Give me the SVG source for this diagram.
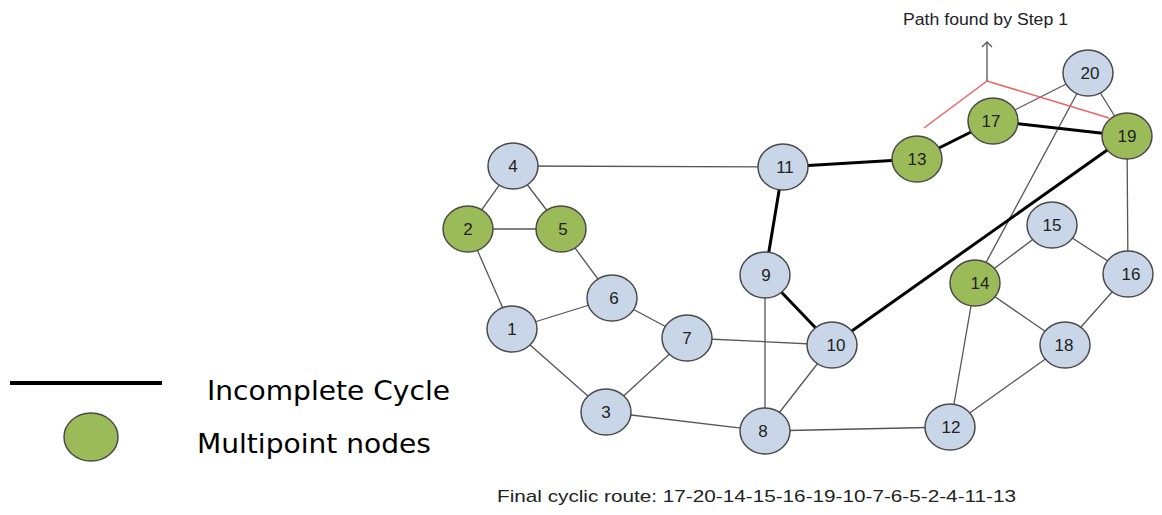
<svg xmlns="http://www.w3.org/2000/svg" width="1162" height="515" viewBox="0 0 1162 515">
<defs>
<style>
.n ellipse{stroke:#4a4a4a;stroke-width:1.5}
.b ellipse{fill:#c8d6e7}
.g ellipse{fill:#9bbb59}
.n text{font-family:"Liberation Sans",Arial,sans-serif;font-size:17px;fill:#222;text-anchor:middle;dominant-baseline:central}
.e line{stroke:#555;stroke-width:1.3}
.e line.t{stroke:#000;stroke-width:3}
.lg{font-family:"DejaVu Sans",Tahoma,sans-serif;font-size:27px;fill:#000}
</style>
<marker id="arr" markerWidth="12" markerHeight="12" refX="6" refY="6" orient="auto" markerUnits="userSpaceOnUse">
<path d="M1,1 L6,6 L1,11" fill="none" stroke="#555" stroke-width="1.3"/>
</marker>
</defs>
<rect width="1162" height="515" fill="#fff"/>
<g id="connectors" class="e">
<line x1="513" y1="166" x2="783" y2="167"/>
<line x1="513" y1="166" x2="468" y2="229"/>
<line x1="513" y1="166" x2="561" y2="229"/>
<line x1="468" y1="229" x2="561" y2="229"/>
<line x1="468" y1="229" x2="512" y2="329"/>
<line x1="561" y1="229" x2="612" y2="298"/>
<line x1="512" y1="329" x2="612" y2="298"/>
<line x1="512" y1="329" x2="606" y2="412"/>
<line x1="606" y1="412" x2="687" y2="338"/>
<line x1="612" y1="298" x2="687" y2="338"/>
<line x1="687" y1="338" x2="832" y2="345"/>
<line x1="606" y1="412" x2="765" y2="431"/>
<line x1="765" y1="275" x2="765" y2="431"/>
<line x1="832" y1="345" x2="765" y2="431"/>
<line x1="765" y1="431" x2="950" y2="427"/>
<line x1="950" y1="427" x2="975" y2="283"/>
<line x1="950" y1="427" x2="1065" y2="345"/>
<line x1="975" y1="283" x2="1065" y2="345"/>
<line x1="975" y1="283" x2="1052" y2="225"/>
<line x1="1052" y1="225" x2="1128" y2="274"/>
<line x1="1128" y1="274" x2="1065" y2="345"/>
<line x1="1128" y1="274" x2="1127" y2="136"/>
<line x1="1127" y1="136" x2="1088" y2="73"/>
<line x1="1088" y1="73" x2="993" y2="121"/>
<line x1="1088" y1="73" x2="975" y2="283"/>
<line class="t" x1="783" y1="167" x2="917" y2="159"/>
<line class="t" x1="917" y1="159" x2="993" y2="121"/>
<line class="t" x1="993" y1="121" x2="1127" y2="136"/>
<line class="t" x1="1127" y1="136" x2="832" y2="345"/>
<line class="t" x1="783" y1="167" x2="765" y2="275"/>
<line class="t" x1="765" y1="275" x2="832" y2="345"/>
</g>
<g id="path-marker">
<polyline points="924,128 987,81 1109,118" fill="none" stroke="#f06060" stroke-width="1.5"/>
<line x1="987" y1="81" x2="987" y2="42" stroke="#555" stroke-width="1.3" marker-end="url(#arr)"/>
<text x="903" y="25" font-family="Liberation Sans,Arial,sans-serif" font-size="16" fill="#222" textLength="165" lengthAdjust="spacingAndGlyphs">Path found by Step 1</text>
</g>
<g id="node1" class="n b"><ellipse cx="512" cy="329" rx="25" ry="23"/><text x="512" y="329">1</text></g>
<g id="node2" class="n g"><ellipse cx="468" cy="229" rx="25" ry="23"/><text x="468" y="229">2</text></g>
<g id="node3" class="n b"><ellipse cx="606" cy="412" rx="25" ry="23"/><text x="606" y="412">3</text></g>
<g id="node4" class="n b"><ellipse cx="513" cy="166" rx="25" ry="23"/><text x="513" y="166">4</text></g>
<g id="node5" class="n g"><ellipse cx="561" cy="229" rx="25" ry="23"/><text x="563" y="229">5</text></g>
<g id="node6" class="n b"><ellipse cx="612" cy="298" rx="25" ry="23"/><text x="614" y="298">6</text></g>
<g id="node7" class="n b"><ellipse cx="687" cy="338" rx="25" ry="23"/><text x="687" y="338">7</text></g>
<g id="node8" class="n b"><ellipse cx="765" cy="431" rx="25" ry="23"/><text x="763" y="431">8</text></g>
<g id="node9" class="n b"><ellipse cx="765" cy="275" rx="25" ry="23"/><text x="766" y="275">9</text></g>
<g id="node10" class="n b"><ellipse cx="832" cy="345" rx="25" ry="23"/><text x="836" y="345">10</text></g>
<g id="node11" class="n b"><ellipse cx="783" cy="167" rx="25" ry="23"/><text x="785" y="167">11</text></g>
<g id="node12" class="n b"><ellipse cx="950" cy="427" rx="25" ry="23"/><text x="951" y="427">12</text></g>
<g id="node13" class="n g"><ellipse cx="917" cy="159" rx="25" ry="23"/><text x="917" y="159">13</text></g>
<g id="node14" class="n g"><ellipse cx="975" cy="283" rx="25" ry="23"/><text x="980" y="283">14</text></g>
<g id="node15" class="n b"><ellipse cx="1052" cy="225" rx="25" ry="23"/><text x="1052" y="225">15</text></g>
<g id="node16" class="n b"><ellipse cx="1128" cy="274" rx="25" ry="23"/><text x="1131" y="274">16</text></g>
<g id="node17" class="n g"><ellipse cx="993" cy="121" rx="25" ry="23"/><text x="991" y="121">17</text></g>
<g id="node18" class="n b"><ellipse cx="1065" cy="345" rx="25" ry="23"/><text x="1064" y="345">18</text></g>
<g id="node19" class="n g"><ellipse cx="1127" cy="136" rx="25" ry="23"/><text x="1127" y="136">19</text></g>
<g id="node20" class="n b"><ellipse cx="1088" cy="73" rx="25" ry="23"/><text x="1090" y="73">20</text></g>
<g id="legend">
<line x1="10" y1="383" x2="162" y2="383" stroke="#000" stroke-width="4"/>
<text class="lg" x="207" y="400" textLength="243" lengthAdjust="spacingAndGlyphs">Incomplete Cycle</text>
<ellipse cx="91" cy="437" rx="27" ry="24" fill="#9bbb59" stroke="#4a4a4a" stroke-width="1.5"/>
<text class="lg" x="197" y="453" textLength="234" lengthAdjust="spacingAndGlyphs">Multipoint nodes</text>
</g>
<text x="497" y="502" font-family="Liberation Sans,Arial,sans-serif" font-size="17" fill="#222" textLength="519" lengthAdjust="spacingAndGlyphs">Final cyclic route: 17-20-14-15-16-19-10-7-6-5-2-4-11-13</text>
</svg>
